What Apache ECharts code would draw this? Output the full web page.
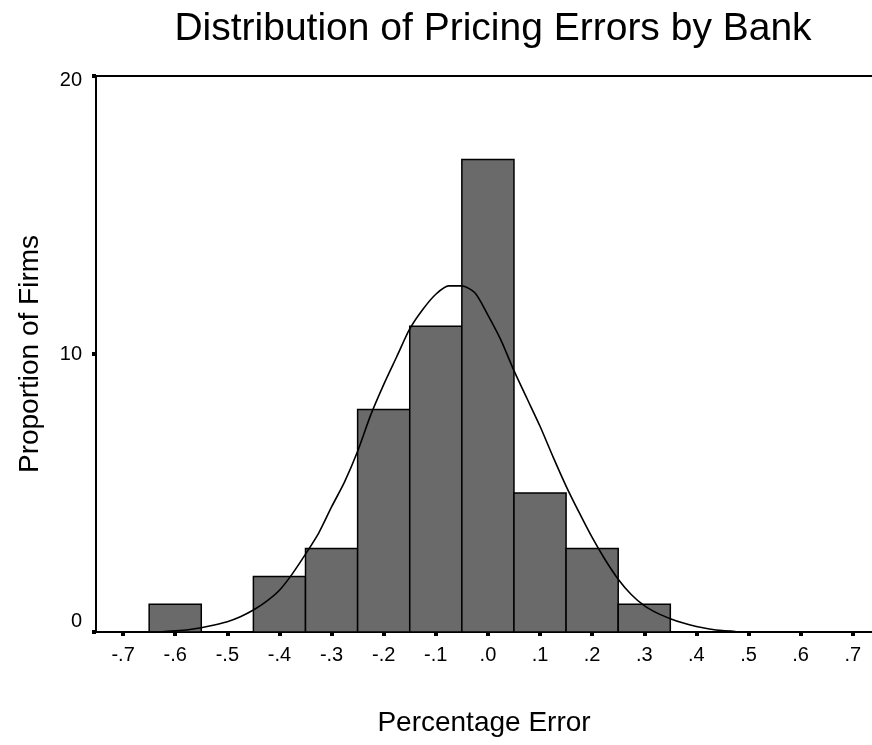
<!DOCTYPE html>
<html>
<head>
<meta charset="utf-8">
<script src="https://cdn.jsdelivr.net/npm/echarts@6/dist/echarts.min.js"></script>
<style>html,body{margin:0;padding:0;background:#fff;}#chart{width:872px;height:745px;}</style>
</head>
<body>
<div id="chart"></div>
<script>
// Histogram bins (bin centres) and counts
const binCenters = [-0.6, -0.4, -0.3, -0.2, -0.1, 0.0, 0.1, 0.2, 0.3];
const binCounts  = [1, 2, 3, 8, 11, 17, 5, 3, 1];
const binWidth = 0.1;

// Fitted normal curve
const curveX = [-0.65,-0.625,-0.6,-0.575,-0.55,-0.525,-0.5,-0.475,-0.45,-0.425,-0.4,-0.375,-0.35,-0.325,-0.3,-0.275,-0.25,-0.225,-0.2,-0.175,-0.15,-0.125,-0.1,-0.075,-0.05,-0.025,0,0.025,0.05,0.075,0.1,0.125,0.15,0.175,0.2,0.225,0.25,0.275,0.3,0.325,0.35,0.375,0.4,0.425,0.45,0.475,0.5];
const curveY = [0,0.01,0.04,0.08,0.15,0.25,0.37,0.55,0.79,1.1,1.5,2.1,2.8,3.55,4.5,5.4,6.5,7.8,8.9,9.9,10.9,11.6,12.15,12.45,12.45,12.2,11.4,10.5,9.4,8.4,7.4,6.3,5.25,4.3,3.4,2.6,1.9,1.35,0.95,0.68,0.48,0.32,0.2,0.11,0.05,0.02,0];

// Tick values and labels
const xTickValues = [-0.7,-0.6,-0.5,-0.4,-0.3,-0.2,-0.1,0.0,0.1,0.2,0.3,0.4,0.5,0.6,0.7];
const xTickLabels = ['-.7','-.6','-.5','-.4','-.3','-.2','-.1','.0','.1','.2','.3','.4','.5','.6','.7'];
const yTickValues = [0, 10, 20];
const yTickLabels = ['0', '10', '20'];

const titleText = 'Distribution of Pricing Errors by Bank';
const xName = 'Percentage Error';
const yName = 'Proportion of Firms';

const FONT = '"Liberation Sans", Arial, Helvetica, sans-serif';

const chart = echarts.init(document.getElementById('chart'), null, {renderer: 'canvas'});

const barData = binCenters.map((c, i) => [c, binCounts[i]]);
const lineData = curveX.map((x, i) => [x, curveY[i]]);

function xLabelFor(v) {
  for (let i = 0; i < xTickValues.length; i++) {
    if (Math.abs(xTickValues[i] - v) < 1e-6) return xTickLabels[i];
  }
  return '';
}
function yLabelFor(v) {
  const i = yTickValues.indexOf(v);
  const t = i >= 0 ? yTickLabels[i] : '';
  if (v === 0) return '{lo|' + t + '}';
  if (v === 20) return '{hi|' + t + '}';
  return '{mid|' + t + '}';
}

chart.setOption({
  animation: false,
  backgroundColor: '#ffffff',
  title: {
    text: titleText,
    left: 488,
    top: 5,
    textAlign: 'center',
    textStyle: {fontFamily: FONT, fontSize: 39, fontWeight: 'normal', color: '#000'}
  },
  grid: {left: 96, right: 0, top: 76, bottom: 113, containLabel: false},
  xAxis: [{
    type: 'value',
    min: -0.752,
    max: 0.737,
    name: xName,
    nameLocation: 'middle',
    nameGap: 77,
    nameTextStyle: {fontFamily: FONT, fontSize: 28, color: '#000', verticalAlign: 'top'},
    axisLine: {show: true, onZero: false, lineStyle: {color: '#000', width: 2}},
    axisTick: {show: true, customValues: xTickValues, length: 4, lineStyle: {color: '#000', width: 4}},
    axisLabel: {show: true, customValues: xTickValues, formatter: xLabelFor, margin: 13,
      fontFamily: FONT, fontSize: 20, color: '#000'},
    splitLine: {show: false}
  }, {
    type: 'value',
    position: 'top',
    min: -0.752,
    max: 0.737,
    axisLine: {show: true, onZero: false, lineStyle: {color: '#000', width: 2}},
    axisTick: {show: false},
    axisLabel: {show: false},
    splitLine: {show: false}
  }],
  yAxis: {
    type: 'value',
    min: 0,
    max: 20,
    interval: 10,
    name: yName,
    nameLocation: 'middle',
    nameRotate: 90,
    nameGap: 52,
    nameTextStyle: {fontFamily: FONT, fontSize: 28, color: '#000'},
    axisLine: {show: true, onZero: false, lineStyle: {color: '#000', width: 2}},
    axisTick: {show: true, length: 4, lineStyle: {color: '#000', width: 4}},
    axisLabel: {show: true, margin: 14, formatter: yLabelFor,
      fontFamily: FONT, fontSize: 20, color: '#000',
      rich: {
        lo: {fontFamily: FONT, fontSize: 20, color: '#000', padding: [0, 0, 22, 0]},
        hi: {fontFamily: FONT, fontSize: 20, color: '#000', padding: [8, 0, 0, 0]},
        mid: {fontFamily: FONT, fontSize: 20, color: '#000'}
      }},
    splitLine: {show: false}
  },
  series: [{
    type: 'custom',
    data: barData,
    z: 2,
    renderItem: function (params, api) {
      const x = api.value(0), y = api.value(1);
      const p0 = api.coord([x - binWidth / 2, y]);
      const p1 = api.coord([x + binWidth / 2, 0]);
      return {
        type: 'rect',
        shape: {x: p0[0], y: p0[1], width: p1[0] - p0[0], height: p1[1] - p0[1]},
        style: {fill: '#6a6a6a', stroke: '#000', lineWidth: 1.5}
      };
    }
  }, {
    type: 'line',
    data: lineData,
    z: 3,
    showSymbol: false,
    symbol: 'none',
    smooth: 0.25,
    lineStyle: {color: '#000', width: 1.6}
  }]
});
</script>
</body>
</html>
